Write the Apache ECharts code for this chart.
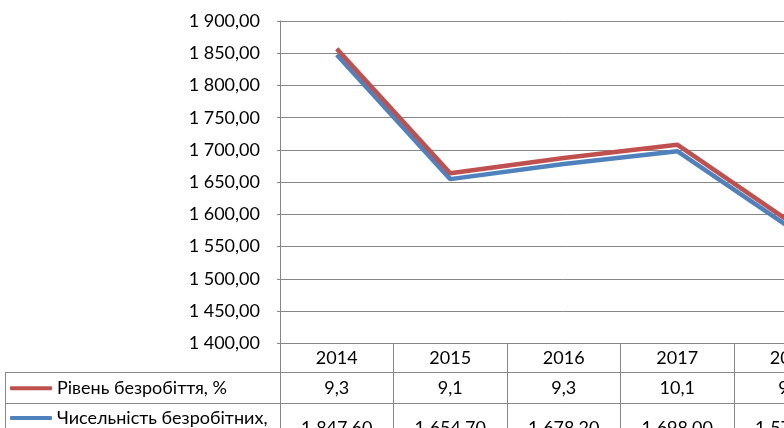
<!DOCTYPE html>
<html>
<head>
<meta charset="utf-8">
<script src="https://cdn.jsdelivr.net/npm/echarts@6/dist/echarts.min.js"></script>
<style>
html,body{margin:0;padding:0;overflow:hidden;background:#fff;width:784px;height:428px;}
#chart{position:absolute;left:0;top:0;width:870px;height:470px;}
</style>
</head>
<body>
<div id="chart"></div>
<script>
const years = ['2014', '2015', '2016', '2017', '2018'];
const unemploymentRate = [9.3, 9.1, 9.3, 10.1, 9.0];
const unemployedCount = [1847.6, 1654.7, 1678.2, 1698.0, 1578.6];
const rateName = 'Рівень безробіття, %';
const countName = 'Чисельність безробітних, тис. осіб';
const yMin = 1400, yMax = 1900, yStep = 50;

function fmt(v, d) {
  const s = v.toFixed(d);
  let [ip, fp] = s.split('.');
  ip = ip.replace(/\B(?=(\d{3})+(?!\d))/g, ' ');
  return fp !== undefined ? ip + ',' + fp : ip;
}

const FONT = 'Lato';
const FS = 18;
const GRAY = '#878787';
const chart = echarts.init(document.getElementById('chart'), null, {renderer: 'canvas'});

const gridLeft = 280, gridTop = 21, gridBottomY = 343.3, chartW = 870, chartH = 470;
const catW = 113.5;
const gridRight = chartW - (gridLeft + catW * years.length);

function tableAxis(data, offset, margin, tickLen) {
  return {
    type: 'category',
    data: data,
    position: 'bottom',
    offset: offset,
    boundaryGap: true,
    axisLine: {show: true, lineStyle: {color: GRAY, width: 1}},
    axisTick: {show: true, alignWithLabel: false, inside: false, length: tickLen, lineStyle: {color: GRAY, width: 1}},
    axisLabel: {show: true, interval: 0, margin: margin, color: '#000', fontFamily: FONT, fontSize: FS, lineHeight: 18},
    splitLine: {show: false}
  };
}

const option = {
  animation: false,
  backgroundColor: '#fff',
  grid: {left: gridLeft, top: gridTop, right: gridRight, bottom: chartH - gridBottomY, containLabel: false},
  xAxis: [
    tableAxis(years, 0, 6, 29),
    tableAxis(unemploymentRate.map(v => fmt(v, 1)), 29, 7, 31),
    tableAxis(unemployedCount.map(v => fmt(v, 2)), 60, 16, 80)
  ],
  yAxis: {
    type: 'value',
    min: yMin, max: yMax, interval: yStep,
    axisLine: {show: true, lineStyle: {color: GRAY, width: 1}},
    axisTick: {show: true, length: 3, lineStyle: {color: GRAY}},
    splitLine: {show: true, lineStyle: {color: GRAY, width: 1}},
    axisLabel: {margin: 20, color: '#000', fontFamily: FONT, fontSize: FS, formatter: v => fmt(v, 2)}
  },
  legend: [
    {
      data: [rateName], left: 10, top: 378.3, padding: 0, itemWidth: 42, itemHeight: 4,
      icon: 'roundRect', selectedMode: false,
      textStyle: {color: '#000', fontFamily: FONT, fontSize: FS, lineHeight: 20}
    },
    {
      data: [countName], left: 10, top: 408, padding: 0, itemWidth: 42, itemHeight: 4,
      icon: 'roundRect', selectedMode: false,
      formatter: n => n.split(' тис')[0],
      textStyle: {color: '#000', fontFamily: FONT, fontSize: FS, lineHeight: 20}
    }
  ],
  graphic: [
    {type: 'line', silent: true, shape: {x1: 5, y1: 372.5, x2: gridLeft, y2: 372.5}, style: {stroke: GRAY, lineWidth: 1}},
    {type: 'line', silent: true, shape: {x1: 5, y1: 403.5, x2: gridLeft, y2: 403.5}, style: {stroke: GRAY, lineWidth: 1}},
    {type: 'line', silent: true, shape: {x1: 5.5, y1: 372.5, x2: 5.5, y2: chartH}, style: {stroke: GRAY, lineWidth: 1}},
    {type: 'text', silent: true, left: 57, top: 430, style: {text: 'тис. осіб', fill: '#000', font: FS + 'px ' + FONT}}
  ],
  series: [
    {
      name: countName, type: 'line', stack: 'total', data: unemployedCount,
      symbol: 'none', showSymbol: false, color: '#4F81BD',
      lineStyle: {color: '#4F81BD', width: 4.5}, itemStyle: {color: '#4F81BD'}
    },
    {
      name: rateName, type: 'line', stack: 'total', data: unemploymentRate,
      symbol: 'none', showSymbol: false, color: '#C0504D',
      lineStyle: {color: '#C0504D', width: 4.5}, itemStyle: {color: '#C0504D'}
    }
  ]
};
chart.setOption(option);
</script>
</body>
</html>
